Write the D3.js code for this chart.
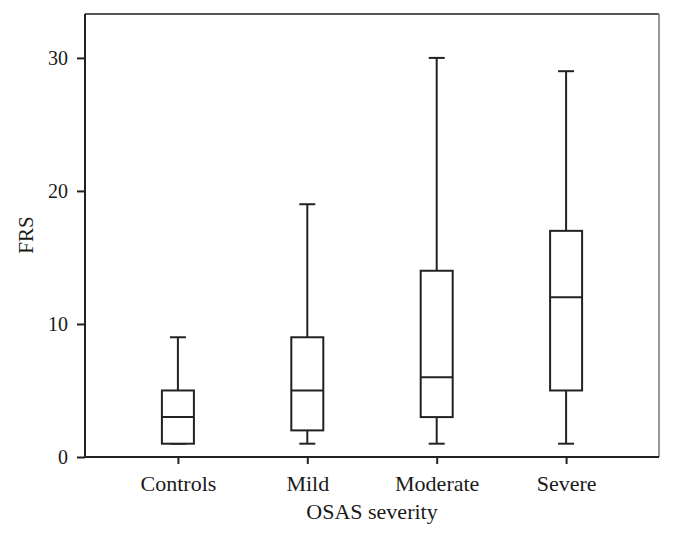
<!DOCTYPE html>
<html>
<head>
<meta charset="utf-8">
<script src="https://cdn.jsdelivr.net/npm/d3@7"></script>
<style>
html,body{margin:0;padding:0;background:#fff;}
svg{display:block;}
text{font-family:"Liberation Serif","Times New Roman",serif;fill:#1a1a1a;}
</style>
</head>
<body>
<svg id="chart" width="674" height="539"></svg>
<script>
const categories = ["Controls", "Mild", "Moderate", "Severe"];
const whiskerMin = [1, 1, 1, 1];
const q1 = [1, 2, 3, 5];
const median = [3, 5, 6, 12];
const q3 = [5, 9, 14, 17];
const whiskerMax = [9, 19, 30, 29];
const yTicks = [0, 10, 20, 30];
const xTitle = "OSAS severity";
const yTitle = "FRS";

const W = 674, H = 539;
const m = {left: 85, right: 15, top: 14, bottom: 82};
const svg = d3.select("#chart");

const x = d3.scalePoint().domain(categories).range([m.left, W - m.right]).padding(0.718);
const y = d3.scaleLinear().domain([0, 33.3]).range([H - m.bottom, m.top]);

const data = categories.map((c, i) => ({c, lo: whiskerMin[i], q1: q1[i], med: median[i], q3: q3[i], hi: whiskerMax[i]}));

// frame: top & right
svg.append("line").attr("x1", m.left).attr("x2", W - m.right).attr("y1", m.top).attr("y2", m.top)
  .attr("stroke", "#555").attr("stroke-width", 2);
svg.append("line").attr("x1", W - m.right).attr("x2", W - m.right).attr("y1", m.top).attr("y2", H - m.bottom)
  .attr("stroke", "#777").attr("stroke-width", 1.5);

// axes
const yAxis = svg.append("g").attr("transform", `translate(${m.left},0)`)
  .call(d3.axisLeft(y).tickValues(yTicks).tickSize(8).tickPadding(9).tickFormat(d3.format("d")));
const xAxis = svg.append("g").attr("transform", `translate(0,${H - m.bottom})`)
  .call(d3.axisBottom(x).tickSize(7).tickPadding(11));
[yAxis, xAxis].forEach(g => {
  g.select(".domain").attr("stroke", "#222").attr("stroke-width", 2);
  g.selectAll(".tick line").attr("stroke", "#222").attr("stroke-width", 2);
  g.selectAll(".tick text").attr("fill", "#1a1a1a")
    .attr("font-family", '"Liberation Serif","Times New Roman",serif');
});
yAxis.selectAll(".tick text").attr("font-size", 20);
xAxis.selectAll(".tick text").attr("font-size", 22);
xAxis.select(".domain").attr("d", `M${m.left},0H${W - m.right}`);
yAxis.select(".domain").attr("d", `M0,${m.top}V${H - m.bottom}`);

// boxes
const boxW = 32, capW = 16;
const g = svg.append("g").attr("stroke", "#222").attr("stroke-width", 2).attr("fill", "none");
data.forEach(d => {
  const cx = x(d.c);
  g.append("line").attr("x1", cx).attr("x2", cx).attr("y1", y(d.q3)).attr("y2", y(d.hi));
  g.append("line").attr("x1", cx).attr("x2", cx).attr("y1", y(d.lo)).attr("y2", y(d.q1));
  g.append("line").attr("x1", cx - capW / 2).attr("x2", cx + capW / 2).attr("y1", y(d.hi)).attr("y2", y(d.hi));
  g.append("line").attr("x1", cx - capW / 2).attr("x2", cx + capW / 2).attr("y1", y(d.lo)).attr("y2", y(d.lo));
  g.append("rect").attr("x", cx - boxW / 2).attr("width", boxW)
    .attr("y", y(d.q3)).attr("height", y(d.q1) - y(d.q3)).attr("fill", "#fff");
  g.append("line").attr("x1", cx - boxW / 2).attr("x2", cx + boxW / 2).attr("y1", y(d.med)).attr("y2", y(d.med));
});

// titles
svg.append("text").attr("x", (m.left + W - m.right) / 2).attr("y", 519)
  .attr("text-anchor", "middle").attr("font-size", 22).text(xTitle);
svg.append("text").attr("transform", `translate(33,235) rotate(-90)`)
  .attr("text-anchor", "middle").attr("font-size", 21).text(yTitle);
</script>
</body>
</html>
